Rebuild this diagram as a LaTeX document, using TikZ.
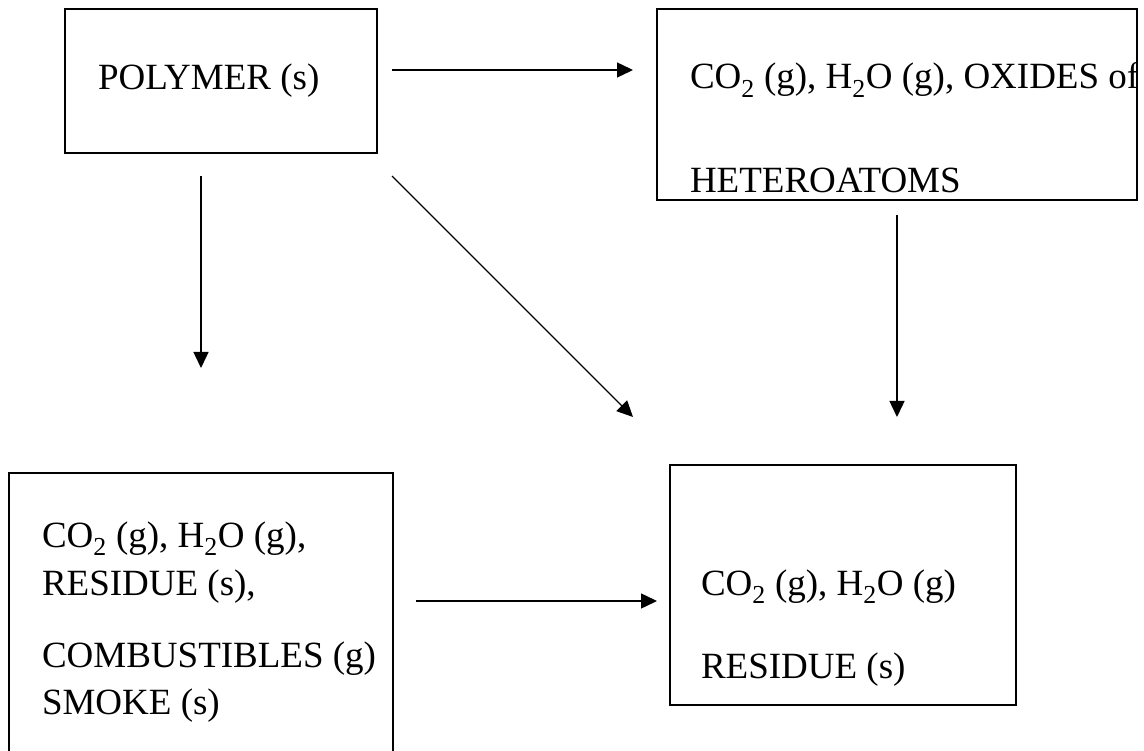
\documentclass[tikz,border=0pt]{standalone}
\usepackage{fontspec}
\setmainfont{Liberation Serif}
\usetikzlibrary{arrows.meta}
\begin{document}
\begin{tikzpicture}[x=1pt,y=-1pt,
  box/.style={draw=black, line width=1.6pt, inner sep=0pt, outer sep=0pt, anchor=north west},
  txt/.style={anchor=base west, inner sep=0pt, outer sep=0pt, font=\fontsize{37}{42}\selectfont},
  arr/.style={line width=1.4pt, -{Triangle[length=16pt,width=15pt]}}]
\useasboundingbox (0,0) rectangle (1144,751);
% boxes
\node[box, minimum width=312pt, minimum height=144pt] (poly) at (65,9) {};
\node[box, minimum width=480pt, minimum height=191pt] (oxid) at (657,9) {};
\node[box, minimum width=384pt, minimum height=320pt] (comb) at (9,473) {};
\node[box, minimum width=346pt, minimum height=240pt] (resi) at (670,465) {};
% texts
\node[txt] (t1) at (98,90) {POLYMER (s)};
\begin{scope}
\clip (657,9) rectangle (1137,200);
\node[txt] (t2a) at (690,89) {CO\textsubscript{2} (g), H\textsubscript{2}O (g), OXIDES of};
\end{scope}
\node[txt] (t2b) at (690,193) {HETEROATOMS};
\node[txt] (t3a) at (42,547) {CO\textsubscript{2} (g), H\textsubscript{2}O (g),};
\node[txt] (t3b) at (42,595) {RESIDUE (s),};
\node[txt] (t3c) at (42,667) {COMBUSTIBLES (g)};
\node[txt] (t3d) at (42,714) {SMOKE (s)};
\node[txt] (t4a) at (701,595) {CO\textsubscript{2} (g), H\textsubscript{2}O (g)};
\node[txt] (t4b) at (701,678) {RESIDUE (s)};
% arrow end points
\coordinate (a1s) at (392,70);  \coordinate (a1e) at (633,70);
\coordinate (a2s) at (201,176); \coordinate (a2e) at (201,368);
\coordinate (a3s) at (392,176); \coordinate (a3e) at (633,417);
\coordinate (a4s) at (897,215); \coordinate (a4e) at (897,417);
\coordinate (a5s) at (416,601); \coordinate (a5e) at (657,601);
\draw[arr] (a1s) -- (a1e);
\draw[arr] (a2s) -- (a2e);
\draw[arr] (a3s) -- (a3e);
\draw[arr] (a4s) -- (a4e);
\draw[arr] (a5s) -- (a5e);
\end{tikzpicture}
\end{document}
